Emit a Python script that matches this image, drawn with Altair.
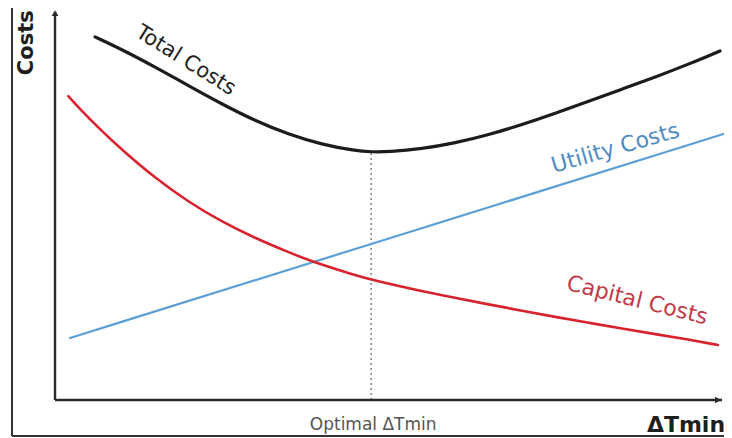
import altair as alt
import pandas as pd

# ---- data (abstract units: origin of the drawn axes = 0, arrow tips = 100) ----
total_x = [6, 10, 15, 20, 25, 30, 35, 40, 45, 47.5, 50, 55, 60, 65, 70, 75, 80, 85, 90, 95, 99.7]
total_y = [93.1, 89.9, 85.4, 80.6, 75.9, 71.6, 68.1, 65.5, 63.9, 63.6, 63.6, 64.4, 65.9, 68.0, 70.6, 73.5, 76.6, 79.7, 82.8, 86.1, 89.5]

capital_x = [2, 3.75, 6.75, 10, 15, 20, 25, 30, 35, 38.5, 45, 47.5, 55, 60, 65, 70, 75, 80, 85, 90, 95, 99.4]
capital_y = [77.9, 74.6, 69.4, 64.2, 56.9, 50.8, 45.7, 41.5, 37.9, 35.5, 32.0, 30.8, 27.9, 26.2, 24.5, 22.9, 21.3, 19.8, 18.3, 16.9, 15.5, 14.1]

utility_x = [2.25, 50, 100.2]
utility_y = [15.9, 41.4, 68.2]

optimal_x = 47.4
optimal_top = 63.6

labels = ["Costs", "Total Costs", "Utility Costs", "Capital Costs", "Optimal ΔTmin", "ΔTmin"]
label_x = [-4.2, 19.6, 84.0, 87.3, 47.7, 94.6]
label_y = [91.6, 87.0, 64.6, 25.6, -6.4, -6.4]

X_DOMAIN = [-7.05, 100.3]
Y_DOMAIN = [-9.74, 100.51]

xs = alt.Scale(domain=X_DOMAIN, nice=False, zero=False)
ys = alt.Scale(domain=Y_DOMAIN, nice=False, zero=False)


def X(f="x"):
    return alt.X(f"{f}:Q", scale=xs, axis=None)


def Y(f="y"):
    return alt.Y(f"{f}:Q", scale=ys, axis=None)


def curve(xv, yv, color, width):
    df = pd.DataFrame({"x": xv, "y": yv})
    return alt.Chart(df).mark_line(
        color=color, strokeWidth=width, interpolate="basis", strokeCap="round"
    ).encode(x=X(), y=Y())


total = curve(total_x, total_y, "#1c1c1c", 3.2)
capital = curve(capital_x, capital_y, "#d8232f", 2.6)
utility = curve(utility_x, utility_y, "#5b9fd6", 2.2)

opt_df = pd.DataFrame({"x": [optimal_x], "y": [0], "y2": [optimal_top]})
optimal = alt.Chart(opt_df).mark_rule(
    color="#8a8a8a", strokeWidth=1.6, strokeDash=[2, 3]
).encode(x=X(), y=Y(), y2="y2:Q")

# axes and frame
axes_df = pd.DataFrame({
    "x": [0, 0],
    "y": [0, 0],
    "x2": [0, 100],
    "y2": [99.5, 0],
})
axes = alt.Chart(axes_df).mark_rule(color="#2a2a2a", strokeWidth=2.4).encode(
    x=X(), y=Y(), x2="x2:Q", y2="y2:Q"
)

frame_df = pd.DataFrame({
    "x": [-6.45, -6.45],
    "y": [-9.23, -9.23],
    "x2": [-6.45, 100.3],
    "y2": [100.51, -9.23],
})
frame = alt.Chart(frame_df).mark_rule(color="#333333", strokeWidth=2).encode(
    x=X(), y=Y(), x2="x2:Q", y2="y2:Q"
)

arrow_up = alt.Chart(pd.DataFrame({"x": [0], "y": [99.2]})).mark_point(
    shape="triangle-up", filled=True, color="#2a2a2a", size=45, opacity=1
).encode(x=X(), y=Y())
arrow_right = alt.Chart(pd.DataFrame({"x": [99.4], "y": [0]})).mark_point(
    shape="triangle-right", filled=True, color="#2a2a2a", size=45, opacity=1
).encode(x=X(), y=Y())


def label(i, color, size, angle=0, bold=False):
    df = pd.DataFrame({"x": [label_x[i]], "y": [label_y[i]], "t": [labels[i]]})
    return alt.Chart(df).mark_text(
        font="DejaVu Sans",
        fontSize=size,
        fontWeight="bold" if bold else "normal",
        color=color,
        angle=angle,
        align="center",
        baseline="middle",
    ).encode(x=X(), y=Y(), text="t:N")


texts = [
    label(0, "#1e1e1e", 21, 270, True),
    label(1, "#222222", 21, 32),
    label(2, "#4f8cc4", 22, 344),
    label(3, "#c23a48", 22, 14),
    label(4, "#555555", 17),
    label(5, "#1e1e1e", 22, 0, True),
]

chart = alt.layer(
    frame, optimal, utility, capital, total, axes, arrow_up, arrow_right, *texts
).properties(
    width=716, height=430, padding=0, autosize="none", background="white"
).configure_view(stroke=None)

chart.save("out.html", embed_options={"renderer": "svg", "actions": False})
